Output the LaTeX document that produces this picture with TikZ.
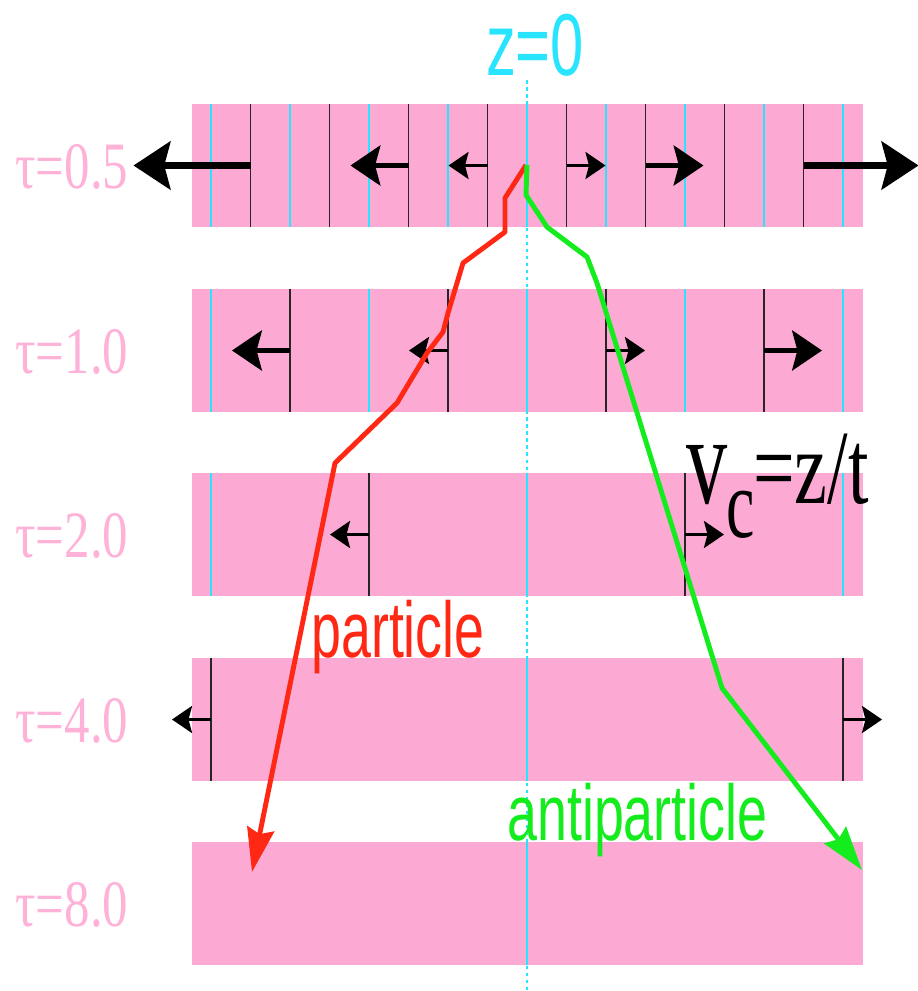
\documentclass[tikz,border=0pt]{standalone}
\usepackage{fontspec}
\setmainfont{Liberation Serif}
\setsansfont{Liberation Sans}
\usepackage{graphicx}
\usepackage{tikz}
\usetikzlibrary{arrows.meta}
\usepackage{xcolor}
\definecolor{bandpink}{RGB}{252,170,211}
\definecolor{labelpink}{RGB}{255,178,216}
\definecolor{zcyan}{RGB}{40,228,255}
\definecolor{partred}{RGB}{255,40,20}
\definecolor{antigreen}{RGB}{20,236,30}

\tikzset{
  zline/.style={zcyan, line width=0.7pt},
  cellwall/.style={black!85, line width=0.8pt},
  flow small/.style={line width=1.7pt, -{Stealth[length=11.4pt,width=15.4pt,inset=2pt]}},
  flow medium/.style={line width=2.6pt, -{Stealth[length=17pt,width=22.8pt,inset=3pt]}},
  flow large/.style={line width=3.8pt, -{Stealth[length=21pt,width=27.3pt,inset=3.5pt]}},
  track/.style={line width=2.8pt, line join=round, -{Stealth[length=25pt,width=15.5pt,inset=3pt]}},
  taulabel/.style={labelpink, inner sep=0pt, anchor=base west, font=\fontsize{29}{29}\selectfont}
}

\begin{document}
\begin{tikzpicture}[x=0.02cm, y=-0.02cm]
\useasboundingbox (0,0) rectangle (918,991);
% z=0 axis, dashed through the gaps
\draw[zcyan, line width=0.6pt, dash pattern=on 2pt off 2pt] (527,80) -- (527,991);
\node[zcyan, anchor=base, inner sep=0pt] (zzero) at (535,75)
  {\sffamily\fontsize{50}{50}\selectfont\scalebox{0.68}[1]{z=0}};
% time slices
\foreach \bandtop in {104,289,473,658,842}
  \fill[bandpink] (192,\bandtop) rectangle (863,\bandtop+123);
% fixed z positions
\foreach \k in {-4,...,4}
  \draw[zline] (527+79*\k,104) -- ++(0,123);
\foreach \k in {-2,...,2}
  \draw[zline] (527+158*\k,289) -- ++(0,123);
\foreach \k in {-1,0,1}
  \draw[zline] (527+316*\k,473) -- ++(0,123);
\draw[zline] (527,658) -- ++(0,123);
\draw[zline] (527,842) -- ++(0,123);
% comoving cell walls
\foreach \k in {-3.5,-2.5,...,3.5}
  \draw[cellwall] (527+79*\k,104) -- ++(0,123);
\foreach \k in {-3,-1,1,3}
  \draw[cellwall] (527+79*\k,289) -- ++(0,123);
\foreach \k in {-2,2}
  \draw[cellwall] (527+79*\k,473) -- ++(0,123);
\foreach \k in {-4,4}
  \draw[cellwall] (527+79*\k,658) -- ++(0,123);
% flow velocity arrows
\foreach \x/\y/\len in {487.5/165.5/-39, 566.5/165.5/39, 448/350.5/-39, 606/350.5/39,
                         369/534.5/-39, 685/534.5/39, 211/719.5/-39, 843/719.5/39}
  \draw[flow small] (\x,\y) -- ++(\len,0);
\foreach \x/\y/\len in {408.5/165.5/-58, 645.5/165.5/58, 290/350.5/-58, 764/350.5/58}
  \draw[flow medium] (\x,\y) -- ++(\len,0);
\foreach \x/\y/\len in {250.5/165.5/-117, 803.5/165.5/115}
  \draw[flow large] (\x,\y) -- ++(\len,0);
% particle tracks
\draw[track, partred] (526,165) -- (505,198) -- (505,232) -- (463,263) -- (448,313)
  -- (443,332) -- (427,353) -- (397,403) -- (335,463) -- (252,872);
\draw[track, antigreen] (527,165) -- (526,195) -- (547,227) -- (587,257) -- (597,283)
  -- (722,688) -- (862,870);
% labels
\foreach \c/\lab [count=\i] in {165.5/0.5, 350.5/1.0, 534.5/2.0, 719.5/4.0, 903.5/8.0}
  \node[taulabel] (tau\i) at (15,\c+23) {\scalebox{1}[1.3]{τ=\lab}};
\node[partred, anchor=base west, inner sep=0pt] (part) at (311,657)
  {\sffamily\fontsize{45}{45}\selectfont\scalebox{0.68}[1]{particle}};
\node[antigreen, anchor=base west, inner sep=0pt] (anti) at (507,840)
  {\sffamily\fontsize{45}{45}\selectfont\scalebox{0.68}[1]{antiparticle}};
\node[anchor=base west, inner sep=0pt] (vel) at (686,503)
  {\scalebox{0.65}[1]{\fontsize{72}{72}\selectfont v}};
\node[anchor=base west, inner sep=0pt] (velsub) at (726,537)
  {\scalebox{0.65}[1]{\fontsize{56}{56}\selectfont c}};
\node[anchor=base west, inner sep=0pt] (velrest) at (753,503)
  {\scalebox{0.70}[1]{\fontsize{60}{60}\selectfont =z/t}};
\end{tikzpicture}
\end{document}
